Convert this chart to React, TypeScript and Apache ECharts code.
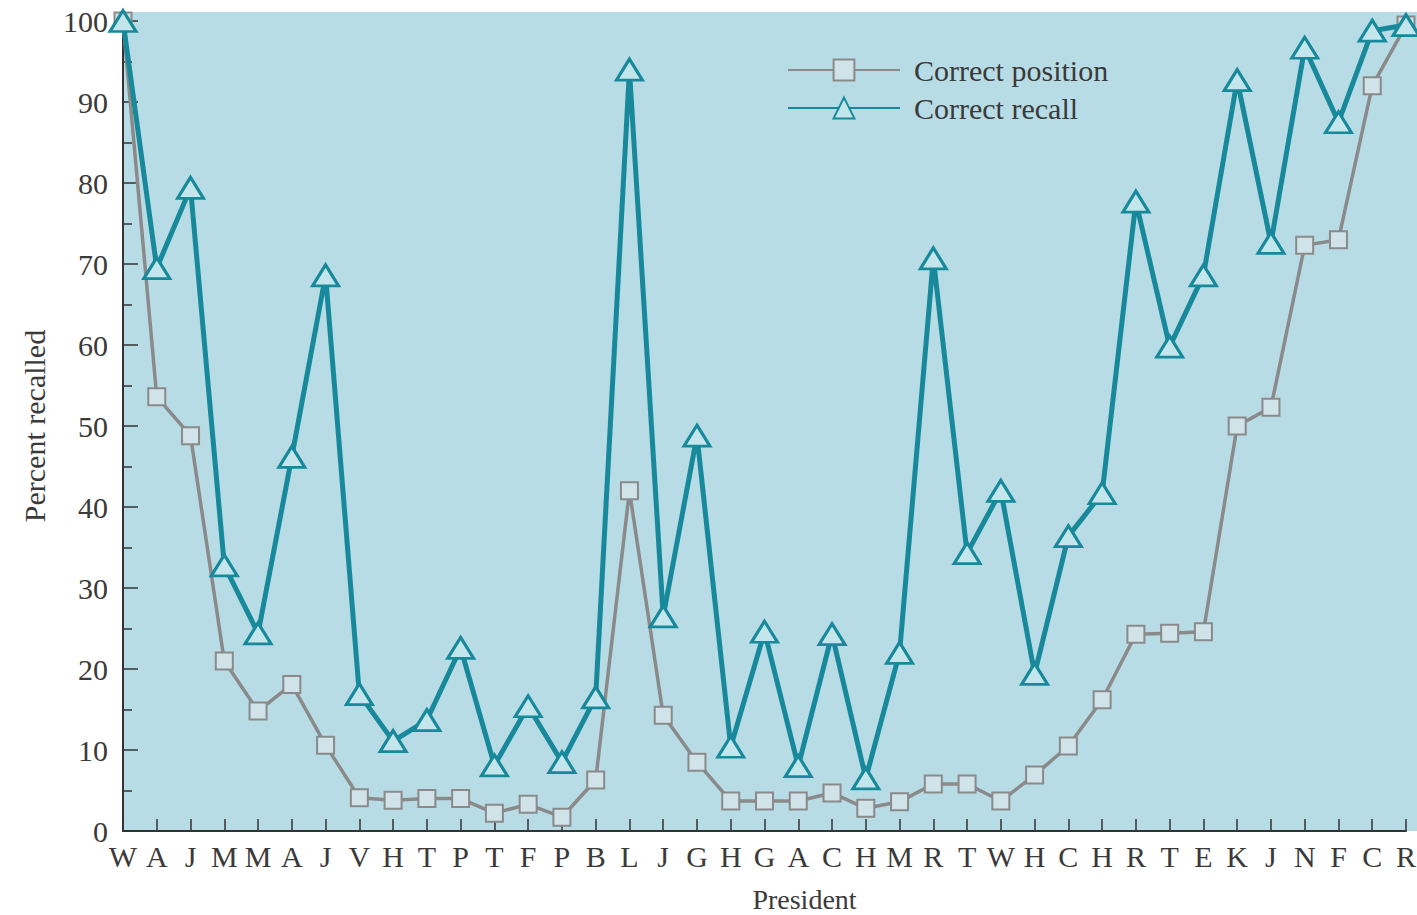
import React, { useEffect, useRef } from "react";
import * as echarts from "echarts";

const presidents = ["W","A","J","M","M","A","J","V","H","T","P","T","F","P","B","L","J","G","H","G","A","C","H","M","R","T","W","H","C","H","R","T","E","K","J","N","F","C","R"];
const correctPosition = [100,53.6,48.8,21,14.8,18.1,10.6,4.1,3.8,4,4,2.2,3.3,1.7,6.3,42,14.3,8.5,3.7,3.7,3.7,4.7,2.8,3.6,5.8,5.8,3.7,6.9,10.5,16.2,24.3,24.4,24.6,50,52.3,72.3,73,92,99.5];
const correctRecall = [100,69.5,79.4,32.8,24.4,46.2,68.6,16.9,11.1,13.7,22.6,8.1,15.4,8.5,16.5,94,26.5,48.8,10.4,24.6,8,24.3,6.5,22,70.7,34.3,42,19.4,36.4,41.7,77.7,59.8,68.6,92.7,72.6,96.7,87.5,98.8,99.5];
const yTicks = [0, 10, 20, 30, 40, 50, 60, 70, 80, 90, 100];

const FONT = "'Liberation Serif', 'DejaVu Serif', serif";
const TEXT = "#3a3a3a";
const TEAL = "#17899a";
const GRAY = "#8a8a8a";

export default function App() {
  const ref = useRef<HTMLDivElement>(null);
  useEffect(() => {
    if (!ref.current) return;
    const chart = echarts.init(ref.current, undefined, { renderer: "svg" });
    chart.setOption({
      animation: false,
      backgroundColor: "#ffffff",
      graphic: [
        {
          type: "rect",
          z: -10,
          silent: true,
          shape: { x: 123, y: 12, width: 1294, height: 819 },
          style: { fill: "#b7dce5" },
        },
      ],
      legend: {
        orient: "vertical",
        left: 782,
        top: 50,
        itemWidth: 112,
        itemHeight: 26,
        itemGap: 8,
        textStyle: { fontFamily: FONT, fontSize: 30, color: TEXT, padding: [0, 0, 0, 9] },
        data: ["Correct position", "Correct recall"],
      },
      grid: { left: 123, right: 11, top: 21, bottom: 84, containLabel: false, outerBoundsMode: "none" },
      xAxis: {
        type: "category",
        data: presidents,
        boundaryGap: false,
        name: "President",
        nameLocation: "middle",
        nameGap: 54,
        nameTextStyle: { fontFamily: FONT, fontSize: 28, color: TEXT, padding: [0, 0, 0, 80] },
        axisLine: { lineStyle: { color: "#333", width: 2 } },
        axisTick: { inside: true, length: 12, lineStyle: { color: "#333", width: 1.5 } },
        axisLabel: { fontFamily: FONT, fontSize: 30, color: TEXT, margin: 10, interval: 0 },
        splitLine: { show: false },
      },
      yAxis: {
        type: "value",
        min: 0,
        max: 100,
        interval: 10,
        name: "Percent recalled",
        nameLocation: "middle",
        nameGap: 74,
        nameTextStyle: { fontFamily: FONT, fontSize: 30, color: TEXT },
        axisLine: { show: true, lineStyle: { color: "#333", width: 2 } },
        axisTick: { show: true, inside: true, length: 15, lineStyle: { color: "#333", width: 1.5 } },
        minorTick: { show: true, splitNumber: 2, length: 9, lineStyle: { color: "#333", width: 1.5 } },
        axisLabel: {
          fontFamily: FONT,
          fontSize: 30,
          color: TEXT,
          margin: 15,
          formatter: (v: number) => (yTicks.includes(v) ? String(v) : ""),
        },
        splitLine: { show: false },
      },
      series: [
        {
          name: "Correct position",
          type: "line",
          data: correctPosition,
          symbol: "rect",
          symbolSize: 17,
          lineStyle: { color: GRAY, width: 3.5 },
          itemStyle: { color: "#cfe3e8", borderColor: GRAY, borderWidth: 2 },
          z: 2,
        },
        {
          name: "Correct recall",
          type: "line",
          data: correctRecall,
          symbol: "triangle",
          symbolSize: [26, 21],
          lineStyle: { color: TEAL, width: 5 },
          itemStyle: { color: "#c2e6ec", borderColor: TEAL, borderWidth: 3 },
          z: 3,
        },
      ],
    });
    return () => chart.dispose();
  }, []);
  return (
    <div
      ref={ref}
      style={{ position: "absolute", left: 0, top: 0, width: 1417, height: 915 }}
    />
  );
}
